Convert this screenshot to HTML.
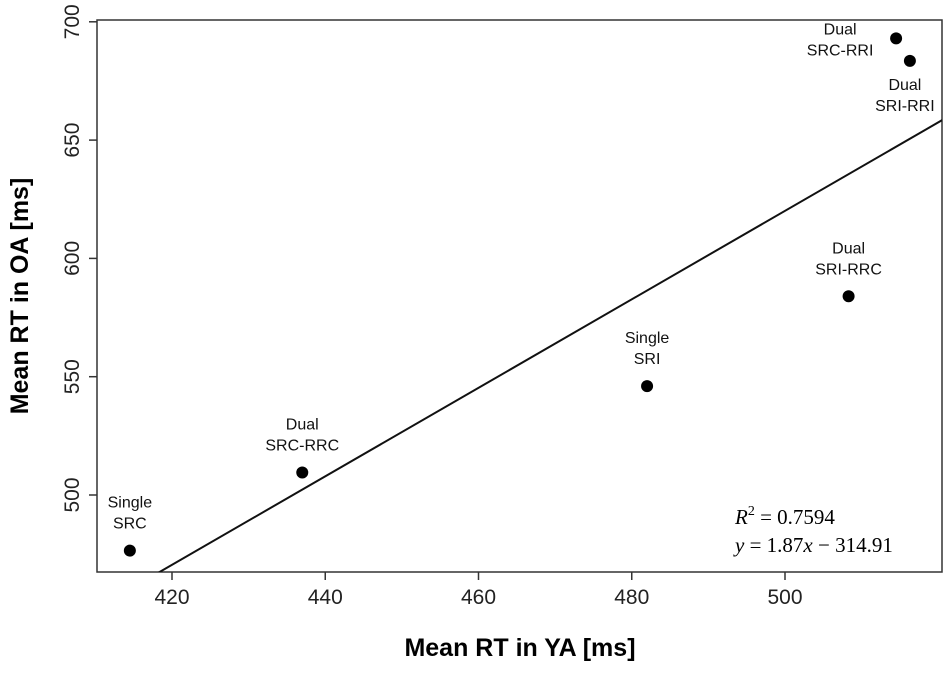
<!DOCTYPE html>
<html><head><meta charset="utf-8"><style>
body{margin:0;background:#fff;width:944px;height:668px;overflow:hidden}
svg text{font-family:"Liberation Sans",sans-serif}
svg text.serif{font-family:"Liberation Serif",serif}
</style></head><body>
<svg id="chart" width="944" height="668">
<defs><clipPath id="clip"><rect x="97" y="20" width="845" height="552"/></clipPath></defs>
<rect x="97" y="20" width="845" height="552" fill="none" stroke="#333" stroke-width="1.5"/>
<g id="xt"></g><g id="yt"></g><g id="pts"></g>
<text x="520" y="656" text-anchor="middle" font-size="25" font-weight="bold">Mean RT in YA [ms]</text>
<text transform="translate(28,296) rotate(-90)" text-anchor="middle" font-size="25" font-weight="bold">Mean RT in OA [ms]</text>
<g font-size="21">
<text class="serif" x="735" y="524"><tspan font-style="italic">R</tspan><tspan dy="-9" font-size="14">2</tspan><tspan dy="9"> = 0.7594</tspan></text>
<text class="serif" x="735" y="552"><tspan font-style="italic">y</tspan> = 1.87<tspan font-style="italic">x</tspan> − 314.91</text>
</g>
</svg>
<script>
const xTicks=[420,440,460,480,500];
const yTicks=[500,550,600,650,700];
const labels1=["Single","Dual","Single","Dual","Dual","Dual"];
const labels2=["SRC","SRC-RRC","SRI","SRI-RRC","SRC-RRI","SRI-RRI"];
const xVals=[414.5,437,482,508.3,514.5,516.3];
const yVals=[476.5,509.5,546,584,693,683.5];
const slope=1.87, intercept=-314.91;
const X=v=>172+(v-420)*7.6625, Y=v=>495-(v-500)*2.366;
const NS="http://www.w3.org/2000/svg";
function mk(t,a,p){const e=document.createElementNS(NS,t);for(const k in a)e.setAttribute(k,a[k]);p.appendChild(e);return e;}
const xt=document.getElementById('xt'),yt=document.getElementById('yt'),pts=document.getElementById('pts'),svg=document.getElementById('chart');
xTicks.forEach(v=>{const l=mk('line',{x1:X(v),x2:X(v),y1:572,y2:580,stroke:'#333','stroke-width':1.5},xt);


const t=mk('text',{x:X(v),y:604,'text-anchor':'middle','font-size':21,fill:'#222'},xt);t.textContent=v;

});
yTicks.forEach(v=>{const l=mk('line',{x1:89,x2:97,y1:Y(v),y2:Y(v),stroke:'#333','stroke-width':1.5},yt);


const t=mk('text',{transform:`translate(79,${Y(v)}) rotate(-90)`,'text-anchor':'middle','font-size':21,fill:'#222'},yt);t.textContent=v;

});
const x0=405,x1=525;
const rl=mk('line',{x1:X(x0),y1:Y(slope*x0+intercept),x2:X(x1),y2:Y(slope*x1+intercept),stroke:'#111','stroke-width':2,'clip-path':'url(#clip)'},svg);


const offs=[[0,-43],[0,-43],[0,-43],[0,-43],[-56,-4],[-5,29]];
xVals.forEach((v,i)=>{const cx=X(v),cy=Y(yVals[i]);
const c=mk('circle',{cx:cx,cy:cy,r:6,fill:'#000'},pts);


const [dx,dy]=offs[i];
const t1=mk('text',{x:cx+dx,y:cy+dy,'text-anchor':'middle','font-size':16,fill:'#111'},pts);t1.textContent=labels1[i];


const t2=mk('text',{x:cx+dx,y:cy+dy+21,'text-anchor':'middle','font-size':16,fill:'#111'},pts);t2.textContent=labels2[i];

});
</script>
</body></html>
